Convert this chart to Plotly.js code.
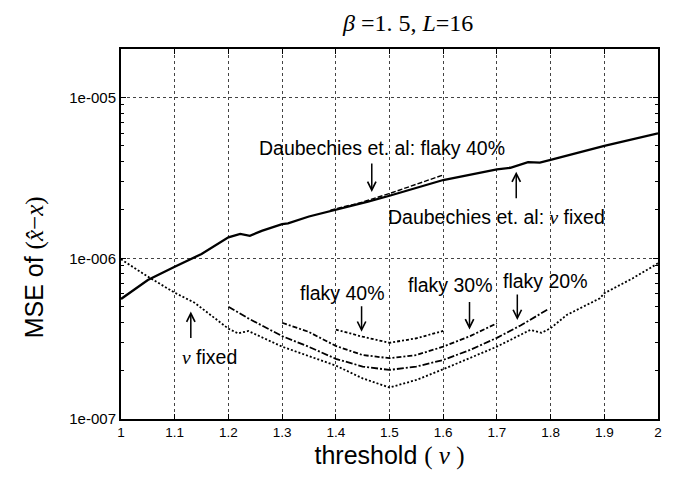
<!DOCTYPE html>
<html>
<head>
<meta charset="utf-8">
<script src="https://cdn.plot.ly/plotly-3.0.1.min.js"></script>
<style>html,body{margin:0;padding:0;background:#fff;}#chart{width:686px;height:477px;}</style>
</head>
<body>
<div id="chart"></div>
<script>
// Daubechies et al.: nu fixed (solid)
const daubFixedX = [1, 1.05, 1.1, 1.15, 1.2, 1.222, 1.24, 1.262, 1.3, 1.311, 1.35, 1.4, 1.46, 1.5, 1.6, 1.7, 1.725, 1.758, 1.78, 1.8, 1.9, 2];
const daubFixedY = [5.58e-7, 7.33e-7, 8.87e-7, 1.064e-6, 1.35e-6, 1.42e-6, 1.38e-6, 1.48e-6, 1.63e-6, 1.65e-6, 1.82e-6, 2.0e-6, 2.25e-6, 2.45e-6, 3.07e-6, 3.58e-6, 3.66e-6, 3.97e-6, 3.94e-6, 4.09e-6, 5.0e-6, 6.0e-6];
// Daubechies et al.: flaky 40% (dashed)
const daubFlakyX = [1.39, 1.45, 1.5, 1.55, 1.6];
const daubFlakyY = [1.99e-6, 2.24e-6, 2.53e-6, 2.88e-6, 3.3e-6];
// nu fixed (dotted)
const nuFixedX = [1, 1.05, 1.1, 1.137, 1.2, 1.218, 1.237, 1.262, 1.3, 1.4, 1.45, 1.5, 1.55, 1.6, 1.65, 1.7, 1.762, 1.783, 1.8, 1.83, 1.892, 1.9, 1.953, 2];
const nuFixedY = [9.86e-7, 7.69e-7, 6.11e-7, 5.29e-7, 3.65e-7, 3.41e-7, 3.53e-7, 3.22e-7, 2.82e-7, 2.15e-7, 1.79e-7, 1.57e-7, 1.75e-7, 2.04e-7, 2.39e-7, 2.82e-7, 3.58e-7, 3.44e-7, 3.67e-7, 4.44e-7, 5.64e-7, 6.06e-7, 7.51e-7, 9.31e-7];
// flaky 20%
const flaky20X = [1.2, 1.237, 1.3, 1.349, 1.4, 1.45, 1.5, 1.55, 1.6, 1.65, 1.7, 1.744, 1.795];
const flaky20Y = [5.0e-7, 4.23e-7, 3.28e-7, 2.82e-7, 2.37e-7, 2.12e-7, 2.02e-7, 2.12e-7, 2.33e-7, 2.69e-7, 3.2e-7, 3.82e-7, 4.81e-7];
// flaky 30%
const flaky30X = [1.3, 1.349, 1.4, 1.45, 1.5, 1.55, 1.6, 1.65, 1.7];
const flaky30Y = [3.97e-7, 3.49e-7, 2.85e-7, 2.5e-7, 2.39e-7, 2.5e-7, 2.82e-7, 3.28e-7, 3.94e-7];
// flaky 40%
const flaky40X = [1.4, 1.45, 1.5, 1.55, 1.6];
const flaky40Y = [3.6e-7, 3.25e-7, 2.98e-7, 3.18e-7, 3.53e-7];

const yTickVals = [1e-7, 1e-6, 1e-5];
const yTickText = ['1e-007', '1e-006', '1e-005'];
const xTickVals = [1, 1.1, 1.2, 1.3, 1.4, 1.5, 1.6, 1.7, 1.8, 1.9, 2];
const xTickText = ['1', '1.1', '1.2', '1.3', '1.4', '1.5', '1.6', '1.7', '1.8', '1.9', '2'];
const yMinorVals = [2e-7,3e-7,4e-7,5e-7,6e-7,7e-7,8e-7,9e-7,2e-6,3e-6,4e-6,5e-6,6e-6,7e-6,8e-6,9e-6,2e-5];

const ln = (x, y, width, dash) => ({x, y, type: 'scatter', mode: 'lines', line: {color: '#000', width, dash}, hoverinfo: 'skip'});
const traces = [
  ln(daubFixedX, daubFixedY, 2.3, 'solid'),
  ln(daubFlakyX, daubFlakyY, 1.4, '5px,2px'),
  ln(nuFixedX, nuFixedY, 1.8, '2px,2px'),
  ln(flaky20X, flaky20Y, 1.8, '7px,2px,2px,2px'),
  ln(flaky30X, flaky30Y, 1.8, '5px,2px,2px,2px'),
  ln(flaky40X, flaky40Y, 1.8, '3px,2px,2px,2px')
];

const L = Math.log10;
const font = {family: 'Liberation Sans, Arial, sans-serif', size: 19.5, color: '#000'};
const txt = (text, x, y) => ({text, x, y: L(y), xref: 'x', yref: 'y', showarrow: false, font, xanchor: 'center', yanchor: 'middle'});
const arr = (x, y, ay) => ({text: '', x, y: L(y), xref: 'x', yref: 'y', showarrow: true, ax: 0, ay, arrowhead: 5, arrowsize: 1.1, arrowwidth: 1.5, arrowcolor: '#000'});

const annotations = [
  txt('Daubechies et. al: flaky 40%', 1.486, 4.85e-6),
  arr(1.467, 2.59e-6, -30),
  txt('Daubechies et. al: <span style="font-family:Liberation Serif"><i>ν</i></span> fixed', 1.700, 1.82e-6),
  arr(1.736, 3.46e-6, 28),
  txt('flaky 40%', 1.413, 6.1e-7),
  arr(1.448, 3.49e-7, -27),
  txt('flaky 30%', 1.613, 6.82e-7),
  arr(1.649, 3.61e-7, -29),
  txt('flaky 20%', 1.791, 7.26e-7),
  arr(1.738, 4.13e-7, -27),
  txt('<span style="font-family:Liberation Serif"><i>ν</i></span> fixed', 1.164, 2.44e-7),
  arr(1.130, 4.66e-7, 28),
  {text: 'MSE of <span style="font-family:Liberation Serif">(<i>x̂</i>−<i>x</i>)</span>', xref: 'paper', yref: 'paper', x: -0.162, y: 0.41, textangle: -90, showarrow: false,
   font: {family: 'Liberation Sans, Arial, sans-serif', size: 25, color: '#000'}, xanchor: 'center', yanchor: 'middle'}
];

const layout = {
  width: 686, height: 477,
  margin: {l: 121, r: 28, t: 49, b: 58},
  paper_bgcolor: '#fff', plot_bgcolor: '#fff',
  showlegend: false,
  title: {text: '<i>β</i> =1. 5, <i>L</i>=16', font: {family: 'Liberation Serif, Times New Roman, serif', size: 24, color: '#000'},
          x: 0.595, xanchor: 'center', xref: 'container', y: 0.953, yref: 'container', yanchor: 'middle'},
  xaxis: {range: [1, 2], tickvals: xTickVals, ticktext: xTickText, ticks: 'inside', ticklen: 5, tickcolor: '#000',
          showline: true, linecolor: '#000', linewidth: 2, mirror: 'ticks',
          showgrid: true, gridcolor: '#444', griddash: 'dot', gridwidth: 1, zeroline: false,
          tickfont: {family: 'Liberation Sans, Arial, sans-serif', size: 13.5, color: '#000'},
          title: {text: 'threshold <span style="font-family:Liberation Serif">( <i>ν</i> )</span>', font: {family: 'Liberation Sans, Arial, sans-serif', size: 25, color: '#000'}, standoff: 7}},
  yaxis: {type: 'log', range: [-7, -4.6976], tickvals: yTickVals, ticktext: yTickText, ticks: 'inside', ticklen: 5, tickcolor: '#000',
          showline: true, linecolor: '#000', linewidth: 2, mirror: 'ticks',
          showgrid: true, gridcolor: '#444', griddash: 'dot', gridwidth: 1, zeroline: false,
          tickfont: {family: 'Liberation Sans, Arial, sans-serif', size: 15, color: '#000'},
          minor: {tickvals: yMinorVals, ticks: 'inside', ticklen: 3, tickcolor: '#000', showgrid: false}},
  annotations
};

Plotly.newPlot('chart', traces, layout, {staticPlot: true, displayModeBar: false});
</script>
</body>
</html>
